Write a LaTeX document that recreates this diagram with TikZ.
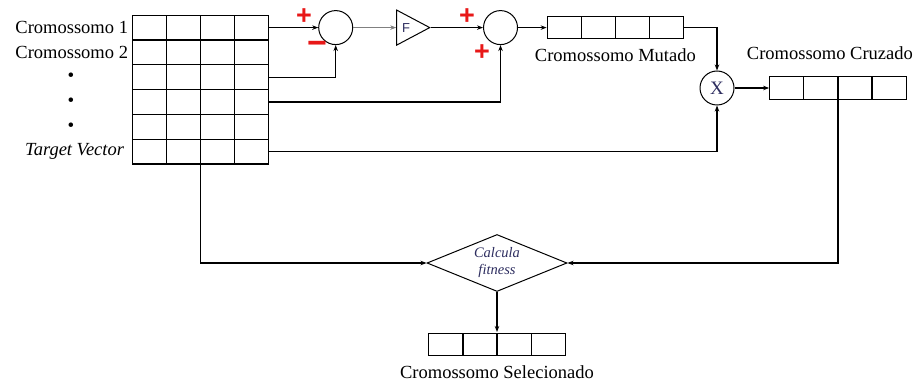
\documentclass[tikz,border=0pt]{standalone}
\usepackage{fontspec}
\setmainfont{Liberation Serif}
\setsansfont{Liberation Sans}
\usetikzlibrary{arrows.meta,positioning,matrix,shapes.geometric}
\definecolor{signred}{RGB}{232,24,24}
\definecolor{inkblue}{RGB}{45,45,95}

\begin{document}
\begin{tikzpicture}[x=1pt, y=-1pt, node distance=4pt and 4pt,
  line width=1.2pt, >={Stealth[length=6pt,width=4.5pt]},
  lab/.style={font=\fontsize{18.5}{20}\selectfont, inner sep=1pt},
  cell/.style={draw, minimum width=34.1pt, minimum height=#1, inner sep=0pt},
  cell/.default={22.5pt},
  vec/.style={matrix of nodes, nodes in empty cells, inner sep=0pt,
    column sep=-1.2pt, row sep=-1.2pt, nodes={cell}},
  sum/.style={draw, circle, minimum size=34pt, inner sep=0pt, line width=1pt},
  sign/.style={text=signred, font=\sffamily\bfseries\fontsize{27}{27}\selectfont, inner sep=0pt}]
\useasboundingbox (0,0) rectangle (920,387);

% population grid and its labels
\matrix[vec, nodes={cell=24.8pt}, anchor=north west] (pop) at (131,14) {
  &&&\\ &&&\\ &&&\\ &&&\\ &&&\\ &&&\\};
\node[lab, left=2pt of pop-1-1] (c1) {Cromossomo 1};
\node[lab, left=2pt of pop-2-1] (c2) {Cromossomo 2};
\coordinate (dotx) at (71,0);
\foreach \r in {3,4,5}
  \node[lab, font=\fontsize{19}{19}\selectfont] (dot\r) at (dotx |- pop-\r-1) {•};
\node[lab, left=6pt of pop-6-1, font=\itshape\fontsize{18.5}{20}\selectfont] (tv) {Target Vector};

% mutation
\node[sum, right=49pt of pop-1-4] (sub) {};
\node[draw, isosceles triangle, isosceles triangle stretches, minimum width=35pt,
  minimum height=33pt, inner sep=0pt, line width=1pt, right=43pt of sub,
  font=\sffamily\fontsize{13}{13}\selectfont, text=inkblue] (amp) {F};
\node[sum, right=52pt of amp] (add) {};
\matrix[vec, right=28pt of add] (mut) {&&&\\};
\node[lab, below=7pt of mut] (lmut) {Cromossomo Mutado};
\node[sign] (s1) at (304,17) {+};
\node[sign, font=\sffamily\bfseries\fontsize{34}{34}\selectfont] (s2) at (317,48) {−};
\node[sign] (s3) at (467,17) {+};
\node[sign] (s4) at (482,53) {+};

% crossover
\node[sum, font=\fontsize{19}{19}\selectfont, text=inkblue] (cross) at (717,88) {X};
\matrix[vec, right=34pt of cross] (cruz) {&&&\\};
\node[lab, above=14pt of cruz, xshift=-8pt] (lcruz) {Cromossomo Cruzado};

% selection
\node[draw, diamond, aspect=2.4, minimum width=140pt, minimum height=57pt, inner sep=0pt,
  align=center, line width=1pt, text=inkblue,
  font=\itshape\fontsize{14.5}{17}\selectfont] (fit) at (497,263) {Calcula\\fitness};
\matrix[vec, below=40pt of fit] (sel) {&&&\\};
\node[lab, below=7pt of sel] (lsel) {Cromossomo Selecionado};

\draw[->] (pop-1-4.east) -- (sub.west);
\draw[->] (pop-3-4.east) -| (sub.south);
\draw[->, gray, line width=0.7pt] (sub.east) -- (amp.west);
\draw[->] (amp.east) -- (add.west);
\draw[->] (pop-4-4.east) -| (add.south);
\draw[->] (add.east) -- (mut-1-1.west);
\draw[->] (mut-1-4.east) -| (cross.north);
\draw[->] (pop-6-4.east) -| (cross.south);
\draw[->] (cross.east) -- (cruz-1-1.west);
\draw[->] (cruz.south) |- (fit.east);
\draw[->] (pop.south) |- (fit.west);
\draw[->] (fit.south) -- (sel.north);
\end{tikzpicture}
\end{document}
